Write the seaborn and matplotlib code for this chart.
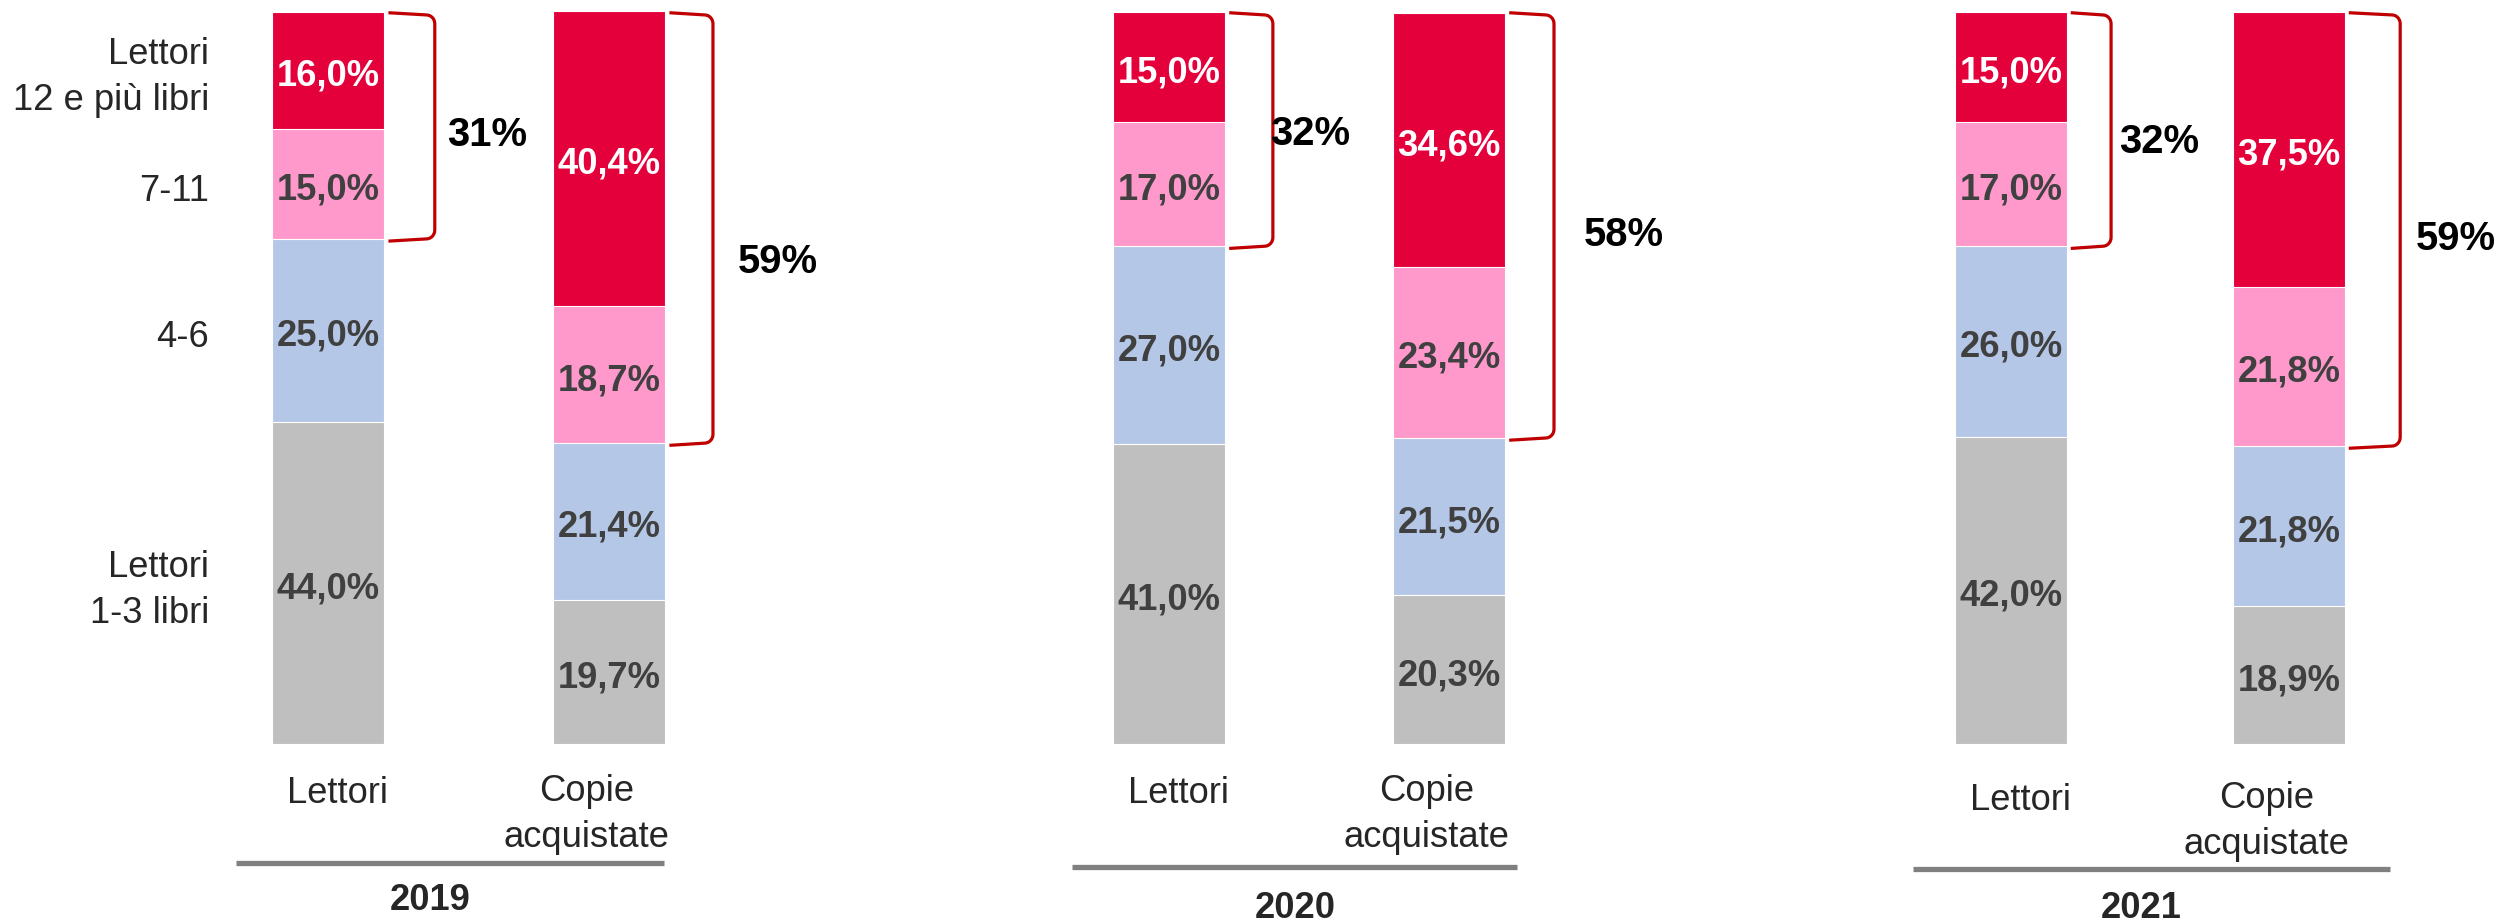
import numpy as np
import pandas as pd
import matplotlib
matplotlib.use("Agg")
import matplotlib.pyplot as plt
import seaborn as sns

# Data
years = ["2019", "2020", "2021"]
bars = ["Lettori", "Copie acquistate"]
bar_ticks = ["Lettori", "Copie\nacquistate"]
groups = ["1-3", "4-6", "7-11", "12+"]
row_labels = ["Lettori\n1-3 libri", "4-6", "7-11", "Lettori\n12 e più libri"]
lettori = [[44.0, 25.0, 15.0, 16.0], [41.0, 27.0, 17.0, 15.0], [42.0, 26.0, 17.0, 15.0]]
copie = [[19.7, 21.4, 18.7, 40.4], [20.3, 21.5, 23.4, 34.6], [18.9, 21.8, 21.8, 37.5]]
shares = [[31, 59], [32, 58], [32, 59]]

colors = ["#BFBFBF", "#B4C7E7", "#FF99CC", "#E4003B"]
text_colors = ["#404040", "#404040", "#404040", "white"]

# Layout (pixels of the 2504x924 canvas, then data units inside each panel)
W, H = 2504, 924
centers = [328, 1169, 2011]
steps = [281, 280, 278]
y0_px, y1_px = 744, 12
tick_y = [-8.06, -8.06, -9.0]
line_step = 6.0
line_y = [-16.3, -16.8, -17.1]
line_x = [(-0.327, 1.196), (-0.346, 1.243), (-0.353, 1.363)]
year_pos = [(0.363, -22.7), (0.45, -23.8), (0.468, -23.8)]
brk_x = [(0.38, 0.37), (0.371, 0.375), (0.36, 0.40)]
share_pos = [[(0.423, 81.7), (0.459, 64.3)],
             [(0.36, 81.8), (0.48, 68.0)],
             [(0.39, 80.7), (0.457, 67.5)]]

sns.set_style("white")
plt.rcParams["font.family"] = ["Liberation Sans", "DejaVu Sans"]
FS = 26.2
FS_SHARE = 28.8


def bracket(ax, x0, x1, ylo, yhi):
    # right-hand bracket with rounded corners
    rx, ry = 0.03, 1.2
    t = np.linspace(0, np.pi / 2, 8)
    cx = x1 - rx + rx * np.sin(t)
    top_y = yhi - ry + ry * np.cos(t)
    bot_y = ylo + ry - ry * np.cos(t)
    xs = np.concatenate([[x0], cx, cx[::-1], [x0]])
    ys = np.concatenate([[yhi + 0.3], top_y, bot_y[::-1], [ylo - 0.3]])
    ax.plot(xs, ys, color="#C00000", lw=2.3, solid_joinstyle="round",
            solid_capstyle="butt", clip_on=False)


fig = plt.figure(figsize=(W / 100, H / 100), dpi=100)

for i, year in enumerate(years):
    s = steps[i]
    left = (centers[i] - 0.75 * s) / W
    ax = fig.add_axes([left, 1 - y0_px / H, 2.5 * s / W, (y0_px - y1_px) / H])

    df = pd.DataFrame({
        "bar": np.repeat(bars, len(groups)),
        "group": groups * 2,
        "value": lettori[i] + copie[i],
    })
    df["top"] = df.groupby("bar")["value"].cumsum()
    df["mid"] = df["top"] - df["value"] / 2

    # stacked bars: draw cumulative totals from the top segment down
    for g, c in reversed(list(zip(groups, colors))):
        sns.barplot(data=df[df.group == g], x="bar", y="top", order=bars,
                    color=c, saturation=1, width=0.4, edgecolor="white",
                    linewidth=0.8, ax=ax)

    ax.set_xlim(-0.75, 1.75)
    ax.set_ylim(0, 100)
    ax.axis("off")

    # segment labels
    for j, b in enumerate(bars):
        sub = df[df.bar == b]
        for k, (_, r) in enumerate(sub.iterrows()):
            txt = f"{r['value']:.1f}%".replace(".", ",")
            ax.text(j, r["mid"] - 0.8, txt, ha="center", va="center", fontsize=FS,
                    fontweight="bold", color=text_colors[k])

        # bracket around the two top groups
        low = sub["value"].iloc[:2].sum()
        bracket(ax, j + 0.215, j + brk_x[i][j], low, 99.6)
        sx, sy = share_pos[i][j]
        ax.text(j + sx, sy, f"{shares[i][j]}%", ha="left", va="baseline",
                fontsize=FS_SHARE, fontweight="bold", color="black", clip_on=False)

    # category labels under the bars
    ax.text(0.035, tick_y[i], bar_ticks[0], ha="center", va="baseline",
            fontsize=FS, clip_on=False)
    ax.text(1 - 0.08, tick_y[i] - line_step, bar_ticks[1], ha="center",
            va="baseline", fontsize=FS, linespacing=1.4, clip_on=False)

    # year separator and label
    ax.plot(line_x[i], [line_y[i]] * 2, color="#808080", lw=3.8,
            solid_capstyle="butt", clip_on=False)
    ax.text(year_pos[i][0], year_pos[i][1], year, ha="center", va="baseline",
            fontsize=FS, fontweight="bold", clip_on=False)

    # group names at the left of the first panel
    if i == 0:
        mids = df[df.bar == bars[0]]["mid"].tolist()
        for lab, m in zip(row_labels, mids):
            ax.text(-0.423, m - 1.0, lab, ha="right", va="center", fontsize=FS,
                    linespacing=1.4, clip_on=False)

fig.savefig("out.png", dpi=100)
